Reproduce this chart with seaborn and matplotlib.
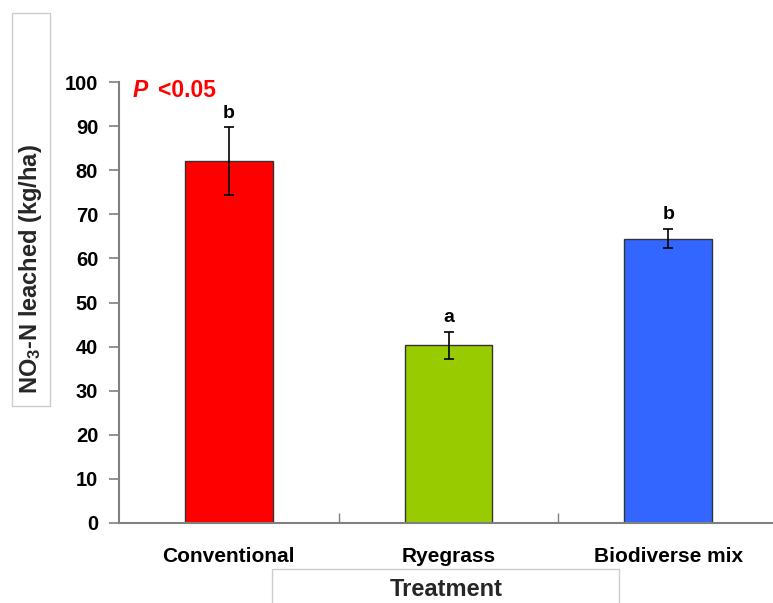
import matplotlib
matplotlib.use("Agg")
import matplotlib.pyplot as plt
from matplotlib.patches import Rectangle
import seaborn as sns
import pandas as pd

treatments = ["Conventional", "Ryegrass", "Biodiverse mix"]
nitrate = [82.0, 40.3, 64.5]
errors = [7.7, 3.0, 2.2]
letters = ["b", "a", "b"]
colors = ["#FF0000", "#99CC00", "#3366FF"]
yticks = [0, 10, 20, 30, 40, 50, 60, 70, 80, 90, 100]

sns.set_theme(style="white")
plt.rcParams["font.family"] = ["Liberation Sans", "DejaVu Sans"]
plt.rcParams["font.weight"] = "bold"
plt.rcParams["mathtext.fontset"] = "custom"
plt.rcParams["mathtext.rm"] = "Liberation Sans"
plt.rcParams["mathtext.it"] = "Liberation Sans:italic"
plt.rcParams["mathtext.bf"] = "Liberation Sans:bold"

W, H = 773, 603
fig = plt.figure(figsize=(W / 100, H / 100), dpi=100)
ax = fig.add_axes([119 / W, (H - 523) / H, 659 / W, (523 - 82) / H])

df = pd.DataFrame({"Treatment": treatments, "NO3": nitrate})
sns.barplot(data=df, x="Treatment", y="NO3", hue="Treatment", palette=colors,
            width=0.4, edgecolor="#333333", linewidth=1.0, errorbar=None,
            legend=False, ax=ax, saturation=1)

xpos = list(range(len(treatments)))
ax.errorbar(xpos, nitrate, yerr=errors, fmt="none", ecolor="black",
            elinewidth=1.2, capsize=3.5, capthick=1.2, zorder=5)

for x, v, e, l in zip(xpos, nitrate, errors, letters):
    ax.annotate(l, (x, v + e), xytext=(0, 4), textcoords="offset points",
                ha="center", va="bottom", fontsize=14, fontweight="bold",
                color="black")

ax.set_xlim(-0.5, 2.5)
ax.set_ylim(0, 100)
ax.set_yticks(yticks)
ax.set_yticklabels([str(t) for t in yticks], fontsize=14.5, fontweight="bold")
ax.set_xticks(xpos)
ax.set_xticklabels(treatments, fontsize=15, fontweight="bold")
ax.set_xticks([0.5, 1.5], minor=True)
ax.tick_params(axis="x", which="major", length=0, pad=17, colors="black")
ax.tick_params(axis="x", which="minor", direction="in", length=7, width=1,
               color="#808080", bottom=True)
ax.tick_params(axis="y", which="major", direction="out", length=7, width=1.2,
               color="#808080", pad=8, left=True, labelcolor="black")
ax.set_xlabel("")
ax.set_ylabel("")

for s in ["top", "right"]:
    ax.spines[s].set_visible(False)
for s in ["left", "bottom"]:
    ax.spines[s].set_color("#808080")
    ax.spines[s].set_linewidth(1.5)

# P value annotation
fig.text(133 / W, 1 - 97 / H, "P", color="#FF0000", fontsize=16.5,
         fontweight="bold", fontstyle="italic", ha="left", va="baseline")
fig.text(158 / W, 1 - 97 / H, "<0.05", color="#FF0000", fontsize=16.5,
         fontweight="bold", ha="left", va="baseline")

# y label with box
fig.text(31 / W, 1 - 269 / H, r"NO$_3$-N leached (kg/ha)", rotation=90,
         fontsize=17, fontweight="bold", ha="center", va="center")
fig.add_artist(Rectangle((12 / W, 1 - 406 / H), 38 / W, 393 / H,
                         transform=fig.transFigure, fill=False,
                         edgecolor="#cccccc", linewidth=1))

# x label with box
fig.text(446 / W, 1 - 590 / H, "Treatment", fontsize=17, fontweight="bold",
         ha="center", va="center")
fig.add_artist(Rectangle((272 / W, -0.02), 347 / W, (H - 569) / H + 0.02,
                         transform=fig.transFigure, fill=False,
                         edgecolor="#cccccc", linewidth=1))

fig.savefig("out.png", dpi=100, facecolor="white")
